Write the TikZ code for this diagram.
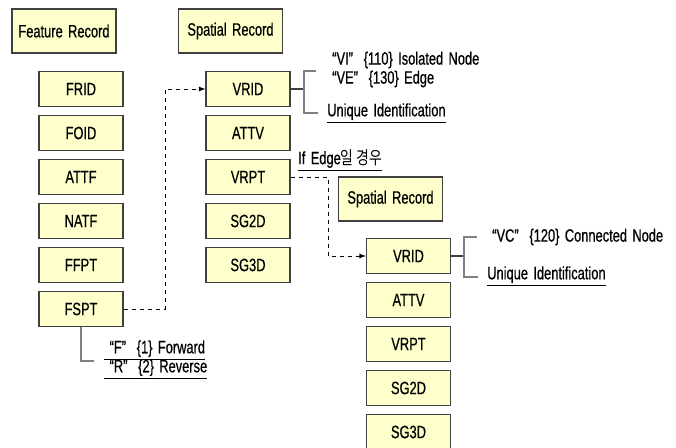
\documentclass[tikz,border=0pt]{standalone}
\usepackage{fontspec}
\setmainfont{Liberation Sans}[FakeStretch=0.72,FakeBold=0.6,WordSpace=1.5]
\newfontfamily\kor{Noto Sans CJK KR}[FakeStretch=0.78]
\begin{document}
\begin{tikzpicture}[x=0.75pt,y=0.75pt,yscale=-1,xscale=1,
  font=\fontsize{13.4}{15}\selectfont,
  rec/.style={draw={rgb, 255:red, 64; green, 64; blue, 64 },fill={rgb, 255:red, 255; green, 255; blue, 204 },line width=0.9pt,minimum width=63pt,minimum height=26pt,inner sep=0pt},
  head/.style={rec,minimum width=78pt,minimum height=33pt},
  txt/.style={anchor=west,inner sep=0pt},
  brk/.style={draw={rgb, 255:red, 128; green, 128; blue, 128 },line width=0.9pt},
  stub/.style={draw={rgb, 255:red, 64; green, 64; blue, 64 },line width=0.9pt},
  lnk/.style={dashed,line width=0.7pt,-latex}]
\useasboundingbox (0,0) rectangle (676,448);

% Header boxes
\node [head] (fhead) at (64,31) {Feature Record};
\node [head] (shead) at (230.5,31) {Spatial Record};
\node [head] (shead2) at (390.5,199) {Spatial Record};

% Feature record fields
\node [rec] (frid) at (81,89) {FRID};
\node [rec] (foid) at (81,133) {FOID};
\node [rec] (attf) at (81,177) {ATTF};
\node [rec] (natf) at (81,221) {NATF};
\node [rec] (ffpt) at (81,265) {FFPT};
\node [rec] (fspt) at (81,309) {FSPT};

% Spatial record fields
\node [rec] (vrid) at (248,89) {VRID};
\node [rec] (attv) at (248,133) {ATTV};
\node [rec] (vrpt) at (248,177) {VRPT};
\node [rec] (sgtwo) at (248,221) {SG2D};
\node [rec] (sgthree) at (248,265) {SG3D};

% Spatial record fields (edge)
\node [rec] (vridb) at (408.5,256) {VRID};
\node [rec] (attvb) at (408.5,300) {ATTV};
\node [rec] (vrptb) at (408.5,344) {VRPT};
\node [rec] (sgtwob) at (408.5,388) {SG2D};
\node [rec] (sgthreeb) at (408.5,432) {SG3D};

% Text Node
\node [txt] (vi) at (332,60) {“VI”\ \ \{110\} Isolated Node};
% Text Node
\node [txt] (ve) at (332,79) {“VE”\ \ \{130\} Edge};
% Text Node
\node [txt] (uid) at (327,113) {\underline{Unique Identification}};
% Text Node
\node [txt] (ifedge) at (298,160) {\underline{If Edge{\kor 일 경우}}};
% Text Node
\node [txt] (vc) at (492,237) {“VC”\ \ \{120\} Connected Node};
% Text Node
\node [txt] (uidb) at (487,276) {\underline{Unique Identification}};
% Text Node
\node [txt] (fwd) at (104,350) {\underline{\ “F”\ \ \{1\}\ Forward}};
% Text Node
\node [txt] (rev) at (104,369) {\underline{\ “R”\ \ \{2\}\ Reverse}};

% Dashed links
\coordinate (ja) at (165,89);
\coordinate (jb) at (328,256);
\draw [lnk] (fspt.east) -| (ja) -- (vrid.west);
\draw [lnk] (vrpt.east) -| (jb) -- (vridb.west);

% Brackets
\draw [stub] (vrid.east) -- (304,89);
\draw [brk] (316,71) -- (304,71) -- (304,113) -- (318,113);
\draw [stub] (vridb.east) -- (464,256);
\draw [brk] (477,237) -- (464,237) -- (464,277) -- (478,277);
\draw [brk] (fspt.south) |- (94,361);

\end{tikzpicture}
\end{document}
